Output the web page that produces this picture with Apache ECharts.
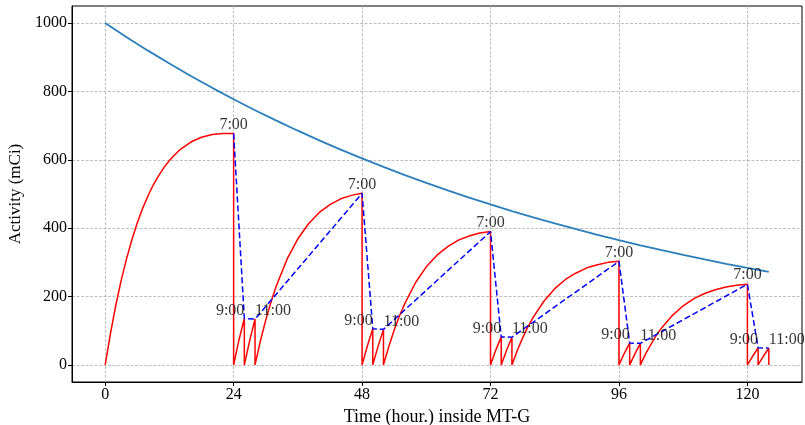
<!DOCTYPE html>
<html><head><meta charset="utf-8">
<script src="https://cdn.jsdelivr.net/npm/echarts@6/dist/echarts.min.js"></script>
<style>html,body{margin:0;padding:0;background:#fff}#c{width:805px;height:425px}</style>
</head><body><div id="c"></div>
<script>
// Mo-99 activity (blue solid)
const moTime = [0,4,8,12,16,20,24,28,32,36,40,44,48,52,56,60,64,68,72,76,80,84,88,92,96,100,104,108,112,116,120,124];
const moActivity = [1000,958.9,919.4,881.6,845.3,810.6,777.2,745.2,714.6,685.2,657.0,630.0,604.1,579.2,555.4,532.5,510.6,489.6,469.5,450.2,431.7,413.9,396.9,380.5,364.9,349.9,335.5,321.7,308.5,295.8,283.6,271.9];
// Tc-99m activity (red), with drops to 0 at each elution
const tcTime = [0,1,2,3,4,5,6,7,8,9,10,11,12,13,14,16,18,20,22,24,
  24,25,26,26,27,28,28,29,30,31,32,34,36,38,40,42,44,46,48,
  48,49,50,50,51,52,52,53,54,55,56,58,60,62,64,66,68,70,72,
  72,73,74,74,75,76,76,77,78,79,80,82,84,86,88,90,92,94,96,
  96,97,98,98,99,100,100,101,102,103,104,106,108,110,112,114,116,118,120,
  120,121,122,122,123,124,124];
const tcActivity = [0,93,176,248,311,367,416,458,495,527,554,578,598,615,630,652,666,674,677,677,
  0,73,136,0,71,134,0,70,131,185,232,310,369,413,446,469,486,496,502,
  0,56,106,0,55,104,0,54,102,144,180,241,287,321,346,365,377,386,390,
  0,44,82,0,43,81,0,42,79,112,140,187,223,250,269,284,293,300,303,
  0,34,64,0,33,63,0,33,61,87,109,145,173,194,209,220,228,233,236,
  0,26,50,0,26,49,0];
// Eluted activity (blue dashed) at 7:00, 9:00, 11:00
const elutionTime = [24,26,28,48,50,52,72,74,76,96,98,100,120,122,124];
const elutionActivity = [677,136,134,502,106,104,390,82,81,303,64,63,236,50,49];
const elutionLabels = ['7:00','9:00','11:00'];
const xTicks = [0,24,48,72,96,120];
const yTicks = [0,200,400,600,800,1000];

const FONT = 'Liberation Serif';
const pairs = (xs, ys) => xs.map((x, i) => [x, ys[i]]);

const labelData = elutionTime.map((t, i) => {
  const k = i % 3;
  const cfg = k === 0 ? {position: 'top', distance: 0}
    : k === 1 ? {position: [1, 1], align: 'right', verticalAlign: 'bottom'}
    : {position: [1, 1], align: 'left', verticalAlign: 'bottom'};
  return {value: [t, elutionActivity[i]], label: Object.assign({show: true, formatter: elutionLabels[k]}, cfg)};
});

const chart = echarts.init(document.getElementById('c'), null, {renderer: 'canvas'});
const gridLine = {show: true, lineStyle: {color: '#b0b0b0', width: 0.8, type: [3, 1.5]}};
chart.setOption({
  animation: false,
  backgroundColor: '#fff',
  grid: {left: 72, top: 6, right: 3, bottom: 43, containLabel: false, outerBoundsMode: 'none',
         show: true, borderColor: '#000', borderWidth: 1, backgroundColor: 'transparent'},
  xAxis: {
    type: 'value', min: -6.2, max: 130.2,
    name: 'Time (hour.) inside MT-G', nameLocation: 'middle', nameGap: 22,
    nameTextStyle: {fontFamily: FONT, fontSize: 18, color: '#000'},
    axisLine: {show: true, onZero: false, lineStyle: {color: '#000'}},
    axisTick: {show: true, length: 4, lineStyle: {color: '#000'}, customValues: xTicks},
    axisLabel: {fontFamily: FONT, fontSize: 16, color: '#000', margin: 5, customValues: xTicks,
                formatter: v => String(v)},
    splitLine: gridLine
  },
  yAxis: {
    type: 'value', min: -50, max: 1050,
    name: 'Activity (mCi)', nameLocation: 'middle', nameGap: 42,
    nameTextStyle: {fontFamily: FONT, fontSize: 17, color: '#000'},
    axisLine: {show: true, onZero: false, lineStyle: {color: '#000'}},
    axisTick: {show: true, length: 4, lineStyle: {color: '#000'}, customValues: yTicks},
    axisLabel: {fontFamily: FONT, fontSize: 16, color: '#000', margin: 5, customValues: yTicks,
                formatter: v => String(v)},
    splitLine: gridLine
  },
  series: [
    {type: 'line', data: pairs(moTime, moActivity), showSymbol: false, symbol: 'none',
     lineStyle: {color: '#2a7fba', width: 1.8}, z: 2},
    {type: 'line', data: pairs(tcTime, tcActivity), showSymbol: false, symbol: 'none',
     lineStyle: {color: '#ff0000', width: 1.5}, z: 3},
    {type: 'line', data: pairs(elutionTime, elutionActivity), showSymbol: false, symbol: 'none',
     lineStyle: {color: '#0000ff', width: 1.5, type: [6, 3]}, z: 4},
    {type: 'scatter', data: labelData, symbolSize: 2, itemStyle: {color: 'transparent'}, clip: false, z: 5,
     label: {fontFamily: FONT, fontSize: 16, color: '#000'}}
  ]
});
</script></body></html>
